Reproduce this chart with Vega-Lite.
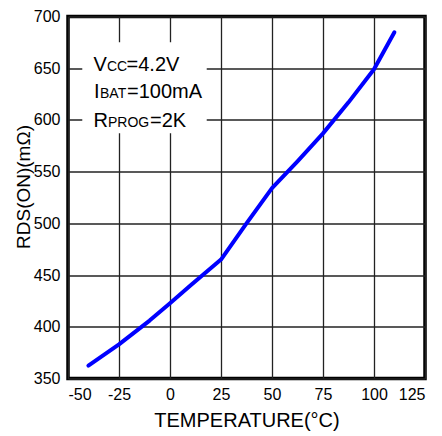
{
  "$schema": "https://vega.github.io/schema/vega-lite/v6.json",
  "width": 357,
  "height": 362,
  "autosize": {"type": "none"},
  "padding": {"left": 68, "top": 16.5, "right": 17, "bottom": 57.5},
  "background": "white",
  "config": {
    "font": "Liberation Sans",
    "view": {"stroke": "black", "strokeWidth": 3.5},
    "axis": {
      "domain": false,
      "ticks": false,
      "grid": true,
      "gridColor": "#222222",
      "gridWidth": 1.3,
      "labelFont": "Liberation Sans",
      "labelFontSize": 16,
      "labelColor": "black",
      "titleFont": "Liberation Sans",
      "titleFontWeight": "normal",
      "titleColor": "black"
    }
  },
  "datasets": {
    "curve": [
      {"temp": -40, "rds": 362.4},
      {"temp": -25, "rds": 383},
      {"temp": -10, "rds": 406},
      {"temp": 0, "rds": 422.7},
      {"temp": 10, "rds": 440},
      {"temp": 25, "rds": 465},
      {"temp": 37.5, "rds": 500},
      {"temp": 50, "rds": 534},
      {"temp": 62.5, "rds": 560},
      {"temp": 75, "rds": 587},
      {"temp": 87.5, "rds": 617},
      {"temp": 100, "rds": 649},
      {"temp": 110, "rds": 684.7}
    ],
    "box": [{"x1": -43, "x2": 18, "y1": 587, "y2": 675}],
    "mainText": [
      {"t": "V", "x": -37.5, "y": 647.6},
      {"t": "=4.2V", "x": -21.3, "y": 647.6},
      {"t": "I", "x": -37.2, "y": 620.9},
      {"t": "=100mA", "x": -21.1, "y": 620.9},
      {"t": "R", "x": -37.5, "y": 593.2},
      {"t": "=2K", "x": -9.8, "y": 593.2}
    ],
    "subText": [
      {"t": "CC", "x": -30.9, "y": 647.6},
      {"t": "BAT", "x": -34.3, "y": 620.9},
      {"t": "PROG", "x": -30.4, "y": 593.2}
    ]
  },
  "layer": [
    {
      "data": {"name": "box"},
      "mark": {"type": "rect", "fill": "white", "stroke": null},
      "encoding": {
        "x": {"field": "x1", "type": "quantitative", "scale": {"domain": [-50, 125], "nice": false},
          "axis": {"values": [-50, -25, 0, 25, 50, 75, 100, 125], "labelExpr": "'' + datum.value", "title": "TEMPERATURE(°C)", "titleFontSize": 20, "labelPadding": 8, "titlePadding": 8}},
        "x2": {"field": "x2"},
        "y": {"field": "y1", "type": "quantitative", "scale": {"domain": [350, 700], "nice": false, "zero": false},
          "axis": {"values": [350, 400, 450, 500, 550, 600, 650, 700], "title": "RDS(ON)(mΩ)", "titleFontSize": 19, "labelPadding": 8, "titlePadding": 0, "titleY": 170}},
        "y2": {"field": "y2"}
      }
    },
    {
      "data": {"name": "curve"},
      "mark": {"type": "line", "color": "#0000ff", "strokeWidth": 4, "strokeCap": "round", "strokeJoin": "round"},
      "encoding": {
        "x": {"field": "temp", "type": "quantitative"},
        "y": {"field": "rds", "type": "quantitative"}
      }
    },
    {
      "data": {"name": "mainText"},
      "mark": {"type": "text", "align": "left", "baseline": "alphabetic", "fontSize": 20, "font": "Liberation Sans", "color": "black"},
      "encoding": {
        "x": {"field": "x", "type": "quantitative"},
        "y": {"field": "y", "type": "quantitative"},
        "text": {"field": "t"}
      }
    },
    {
      "data": {"name": "subText"},
      "mark": {"type": "text", "align": "left", "baseline": "alphabetic", "fontSize": 14, "font": "Liberation Sans", "color": "black"},
      "encoding": {
        "x": {"field": "x", "type": "quantitative"},
        "y": {"field": "y", "type": "quantitative"},
        "text": {"field": "t"}
      }
    }
  ]
}
